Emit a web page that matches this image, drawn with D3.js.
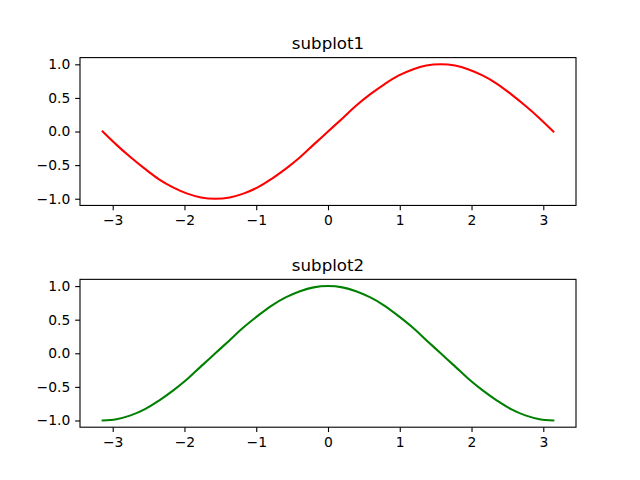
<!DOCTYPE html>
<html><head><meta charset="utf-8">
<script src="https://cdn.jsdelivr.net/npm/d3@7"></script>
<style>body{margin:0;background:#fff}svg{display:block}</style>
</head><body>
<svg id="c" width="640" height="480"></svg>
<script>
const xs = [-3.14,-2.95,-2.75,-2.55,-2.36,-2.16,-1.96,-1.77,-1.57,-1.37,-1.18,-0.98,-0.79,-0.59,-0.39,-0.20,0,0.20,0.39,0.59,0.79,0.98,1.18,1.37,1.57,1.77,1.96,2.16,2.36,2.55,2.75,2.95,3.14];
const sinVals = [0,-0.195,-0.383,-0.556,-0.707,-0.831,-0.924,-0.981,-1,-0.981,-0.924,-0.831,-0.707,-0.556,-0.383,-0.195,0,0.195,0.383,0.556,0.707,0.831,0.924,0.981,1,0.981,0.924,0.831,0.707,0.556,0.383,0.195,0];
const cosVals = [-1,-0.981,-0.924,-0.831,-0.707,-0.556,-0.383,-0.195,0,0.195,0.383,0.556,0.707,0.831,0.924,0.981,1,0.981,0.924,0.831,0.707,0.556,0.383,0.195,0,-0.195,-0.383,-0.556,-0.707,-0.831,-0.924,-0.981,-1];
const xTicks = [-3,-2,-1,0,1,2,3];
const yTicks = [-1.0,-0.5,0.0,0.5,1.0];
const titles = ["subplot1","subplot2"];
const colors = ["#ff0000","#008000"];
const series = [sinVals, cosVals];

const svg = d3.select("#c");
const left = 80, right = 576;
const tops = [57.6, 279.36], h = 147.84;
const fmtY = v => d3.format(".1f")(v).replace("-", "\u2212");
const fmtX = v => String(v).replace("-", "\u2212");

series.forEach((vals, i) => {
  const x = d3.scaleLinear().domain([-3.45575, 3.45575]).range([left, right]);
  const y = d3.scaleLinear().domain([-1.1, 1.1]).range([tops[i] + h, tops[i]]);
  const g = svg.append("g");
  const xa = g.append("g").attr("transform", `translate(0,${tops[i]+h})`)
    .call(d3.axisBottom(x).tickValues(xTicks).tickFormat(fmtX).tickSizeOuter(0).tickSize(4.86).tickPadding(4.86));
  const ya = g.append("g").attr("transform", `translate(${left},0)`)
    .call(d3.axisLeft(y).tickValues(yTicks).tickFormat(fmtY).tickSizeOuter(0).tickSize(4.86).tickPadding(4.86));
  [xa, ya].forEach(a => {
    a.select(".domain").remove();
    a.selectAll("line").attr("stroke", "#000").attr("stroke-width", 1.1);
    a.selectAll("text").attr("font-family", "DejaVu Sans").attr("font-size", "13.89px").attr("fill", "#000");
  });
  const line = d3.line().x((d, j) => x(xs[j])).y(d => y(d)).curve(d3.curveCatmullRom);
  g.append("path").datum(vals).attr("d", line).attr("fill", "none")
    .attr("stroke", colors[i]).attr("stroke-width", 2.08).attr("stroke-linecap", "square");
  g.append("rect").attr("x", left).attr("y", tops[i]).attr("width", right-left).attr("height", h)
    .attr("fill", "none").attr("stroke", "#000").attr("stroke-width", 1.1);
  g.append("text").attr("x", (left+right)/2).attr("y", tops[i] - 8.33)
    .attr("text-anchor", "middle").attr("font-family", "DejaVu Sans").attr("font-size", "16.67px")
    .text(titles[i]);
});
</script>
</body></html>
